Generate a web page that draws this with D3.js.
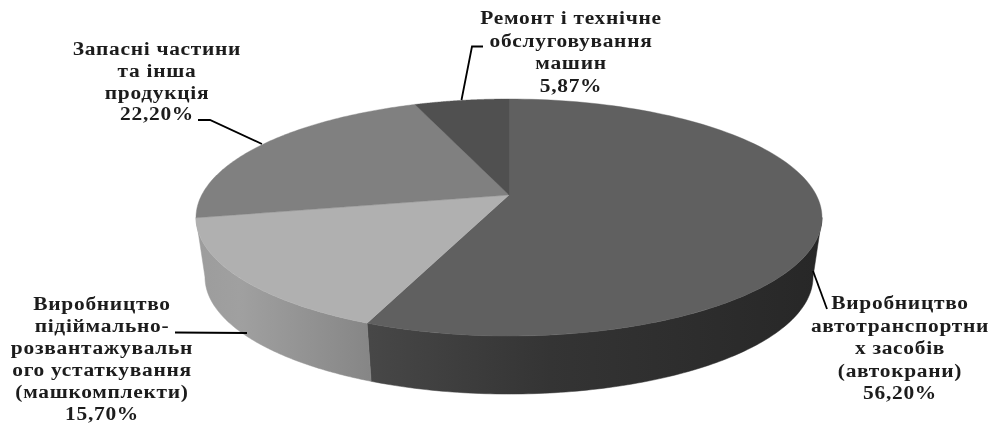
<!DOCTYPE html>
<html><head><meta charset="utf-8">
<script src="https://cdnjs.cloudflare.com/ajax/libs/d3/7.9.0/d3.min.js"></script>
<style>html,body{margin:0;padding:0;background:#fff}svg{display:block}</style></head>
<body><svg id="c" width="992" height="426"></svg>
<script>
const categories = ["Виробництво автотранспортних засобів (автокрани)","Виробництво підіймально-розвантажувального устаткування (машкомплекти)","Запасні частини та інша продукція","Ремонт і технічне обслуговування машин"];
const values = [56.20,15.70,22.20,5.87];
const valueLabels = ["56,20%","15,70%","22,20%","5,87%"];
const topColors = ["#606060","#b0b0b0","#808080","#505050"];
const sideStops = [[[0,"#474747"],[.4,"#343434"],[1,"#272727"]],[[0,"#868686"],[.75,"#a0a0a0"],[1,"#9c9c9c"]]];
const labelLines = [
 ["Виробництво","автотранспортни","х засобів","(автокрани)"],
 ["Виробництво","підіймально-","розвантажувальн","ого устаткування","(машкомплекти)"],
 ["Запасні частини","та інша","продукція"],
 ["Ремонт і технічне","обслуговування","машин"]];
const labelCenterX=[900,102,157,571];
const labelFirstY=[309,310,55,24];
const labelLead=[22.5,22,21.8,22.5];
const leaders=[[[813,271],[827,309]],[[175,332.5],[247,333]],[[198,120],[210,120],[262,144]],[[461.5,100],[472,46.5],[483,46.5]]];

const svg=d3.select("#c");
const defs=svg.append("defs");
defs.append("filter").attr("id","soft").append("feGaussianBlur").attr("stdDeviation",0.45);

const cx=509, apexY=195, c=0.19, a=-77.2, k=307.3;
const proj=t=>{const u=Math.sin(t),v=Math.cos(t),d=1+c*v;return [cx+k*u/d,(a*v+apexY)/d];};
const ecy=217.5, botCy=277, sx=304/313, sy=117/118.5;
const projBot=t=>{const p=proj(t);return [cx+(p[0]-cx)*sx,botCy+(p[1]-ecy)*sy];};
const pie=d3.pie().sort(null).value(d=>d).startAngle(0).endAngle(2*Math.PI);
const arcs=pie(values);
const samples=(a0,a1)=>d3.range(0,121).map(i=>a0+(a1-a0)*i/120);
const line=d3.line();

// the wall is visible between the two silhouette tangents of the disc
const tanLo=Math.PI/2+Math.asin(c), tanHi=3*Math.PI/2-Math.asin(c);
arcs.forEach((d,i)=>{
  const lo=Math.max(d.startAngle,tanLo), hi=i===1?tanHi:Math.min(d.endAngle,tanHi);
  if(!(hi>lo+0.01)) return;
  const ts=samples(lo,hi);
  const g=defs.append("linearGradient").attr("id","side"+i).attr("gradientUnits","userSpaceOnUse")
    .attr("x1",370).attr("x2",i===0?822:196).attr("y1",0).attr("y2",0);
  sideStops[i].forEach(s=>g.append("stop").attr("offset",s[0]).attr("stop-color",s[1]));
  svg.append("path").attr("d",line(ts.map(proj).concat(ts.map(projBot).reverse()))+"Z")
    .attr("fill",`url(#side${i})`).attr("stroke",`url(#side${i})`).attr("stroke-width",.5);
});
arcs.forEach((d,i)=>{
  const pts=[[cx,apexY]].concat(samples(d.startAngle,d.endAngle).map(proj));
  svg.append("path").attr("d",line(pts)+"Z").attr("fill",topColors[i]).attr("stroke",topColors[i]).attr("stroke-width",.4);
});
leaders.forEach(l=>svg.append("path").attr("d",line(l)).attr("fill","none").attr("stroke","#000").attr("stroke-width",1.8));
const tg=svg.append("g").attr("filter","url(#soft)").attr("font-family","Liberation Serif").attr("font-size",18).attr("font-weight","bold").attr("fill","#1a1a1a").attr("text-anchor","middle").style("letter-spacing","0.6px");
labelLines.forEach((ls,i)=>{
  ls.concat(valueLabels[i]).forEach((t,j)=>{
    tg.append("text").attr("transform",`translate(${labelCenterX[i]},${labelFirstY[i]+j*labelLead[i]}) scale(1.19,1)`).text(t);
  });
});
</script></body></html>
